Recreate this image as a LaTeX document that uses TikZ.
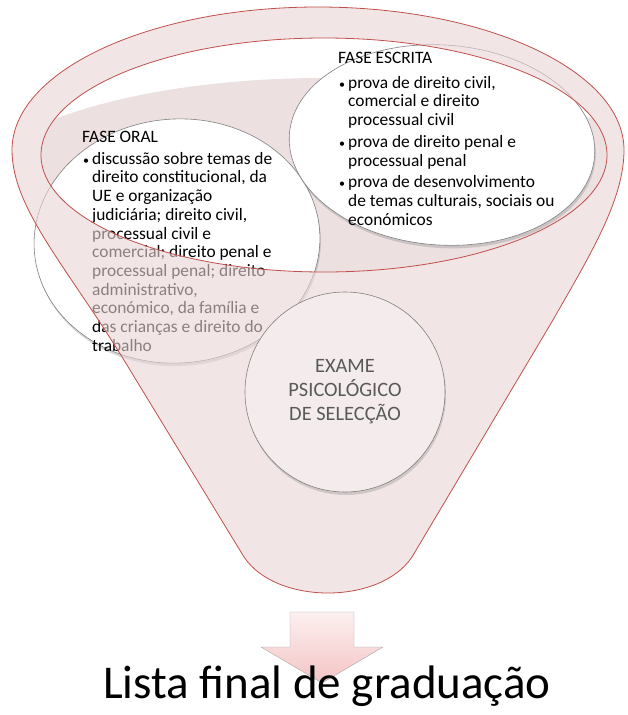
\documentclass[tikz,border=0pt]{standalone}
\usepackage{fontspec}
\setmainfont{Carlito}
\usetikzlibrary{shapes.geometric,shadows}

\definecolor{funnelred}{RGB}{192,80,77}
\definecolor{funnelfill}{RGB}{233,212,212}
\definecolor{mouthshade}{RGB}{236,224,224}
\definecolor{ringgray}{RGB}{128,128,128}
\definecolor{examefill}{RGB}{244,236,236}
\definecolor{exametext}{RGB}{89,89,89}
\definecolor{arrowtop}{RGB}{253,240,240}
\definecolor{arrowbot}{RGB}{243,196,196}

\tikzset{
  phase/.style={ellipse, draw=ringgray, line width=0.6pt, fill=white, inner sep=0pt,
    drop shadow={opacity=0.3, shadow xshift=1pt, shadow yshift=-3pt}},
  bullets/.style={anchor=north west, align=left, inner sep=0pt,
    font=\fontsize{17.4}{18.7}\selectfont},
  rim/.style={draw=funnelred, line width=0.8pt},
}
\newcommand{\ind}{\hspace*{10pt}}
\newcommand{\bul}{\makebox[10pt][l]{\hspace*{1pt}\fontsize{12}{12}\selectfont•}}

\begin{document}
\begin{tikzpicture}[x=1pt,y=-1pt]
	\useasboundingbox (0,0) rectangle (627,715);

	% inside of the funnel mouth
	\begin{scope}
		\clip (324,155) ellipse [x radius=283, y radius=117];
		\fill[mouthshade] (324,200) ellipse [x radius=360, y radius=122];
	\end{scope}

	% the three phases
	\node[phase, minimum width=286, minimum height=244, rotate=4] (oral) at (177,241) {};
	\node[phase, minimum width=306, minimum height=200, rotate=-4] (escrita) at (442,145) {};

	\node[bullets] (oraltxt) at (82,130.8) {FASE ORAL\\[3.3pt]
		\bul discussão sobre temas de\\
		\ind direito constitucional, da\\
		\ind UE e organização\\
		\ind judiciária; direito civil,\\
		\ind processual civil e\\
		\ind comercial; direito penal e\\
		\ind processual penal; direito\\
		\ind administrativo,\\
		\ind económico, da família e\\
		\ind das crianças e direito do\\
		\ind trabalho};
	\node[bullets] (escritatxt) at (338,51.8) {FASE ESCRITA\\[6.3pt]
		\bul prova de direito civil,\\
		\ind comercial e direito\\
		\ind processual civil\\[3.5pt]
		\bul prova de direito penal e\\
		\ind processual penal\\[2.5pt]
		\bul prova de desenvolvimento\\
		\ind de temas culturais, sociais ou\\
		\ind económicos};

	% front of the funnel
	\fill[funnelfill, opacity=0.6, even odd rule]
		(12,150) arc [start angle=180, end angle=360, x radius=306, y radius=143]
		.. controls (624,200) and (590,255) .. (553,320) -- (412,557)
		.. controls (380,605) and (276,605) .. (244,557) -- (130,370)
		.. controls (70,270) and (12,210) .. (12,150) -- cycle
		(324,155) ellipse [x radius=283, y radius=117];

	\node[circle, minimum size=200, draw=ringgray, fill=examefill, line width=0.6pt,
		drop shadow={opacity=0.3, shadow xshift=1pt, shadow yshift=-3pt},
		text=exametext, align=center, font=\fontsize{20.4}{24}\selectfont]
		(exame) at (345,392) {EXAME\\PSICOLÓGICO\\DE SELECÇÃO};

	% outline of the funnel
	\draw[rim]
		(12,150) arc [start angle=180, end angle=360, x radius=306, y radius=143]
		.. controls (624,200) and (590,255) .. (553,320) -- (412,557)
		.. controls (380,605) and (276,605) .. (244,557) -- (130,370)
		.. controls (70,270) and (12,210) .. (12,150);
	\draw[rim] (324,155) ellipse [x radius=283, y radius=117];

	% result
	\draw[draw=gray!70, top color=arrowtop, bottom color=arrowbot]
		(290,612) -- (354,612) -- (354,647) -- (383,647) -- (322,683)
		-- (261,647) -- (290,647) -- cycle;
	\node[anchor=base, inner sep=0pt, font=\fontsize{47}{50}\selectfont]
		(title) at (327,698) {Lista final de graduação};
\end{tikzpicture}
\end{document}
